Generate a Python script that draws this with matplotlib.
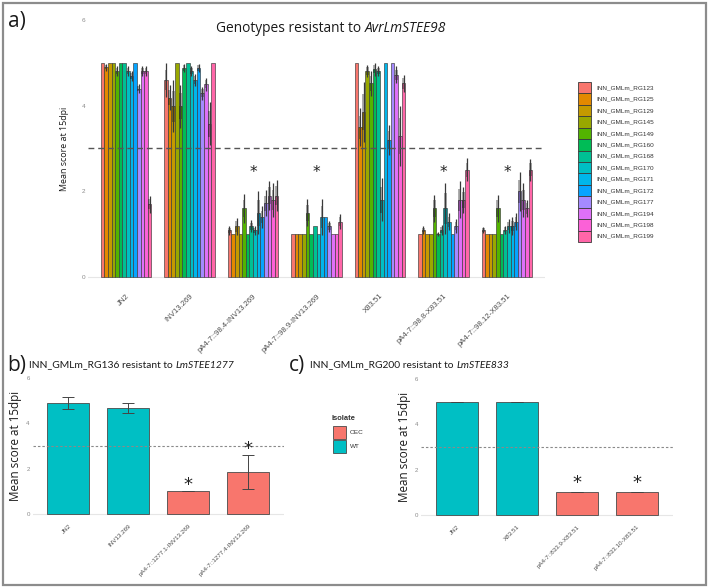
import matplotlib
matplotlib.use("Agg")
import matplotlib.pyplot as plt
from matplotlib.patches import Rectangle
import numpy as np

# ---------------- data ----------------
isolates_a = ["JN2", "INV13.269", "pA4-7::98.4-INV13.269", "pA4-7::98.9-INV13.269",
              "X83.51", "pA4-7::98.8-X83.51", "pA4-7::98.12-X83.51"]
genotypes = ["INN_GMLm_RG123", "INN_GMLm_RG125", "INN_GMLm_RG129", "INN_GMLm_RG145",
             "INN_GMLm_RG149", "INN_GMLm_RG160", "INN_GMLm_RG168", "INN_GMLm_RG170",
             "INN_GMLm_RG171", "INN_GMLm_RG172", "INN_GMLm_RG177", "INN_GMLm_RG194",
             "INN_GMLm_RG198", "INN_GMLm_RG199"]
geno_colors = ["#F8766D", "#E38900", "#C49A00", "#99A800", "#53B400", "#00BC56", "#00C094",
               "#00BFC4", "#00B6EB", "#06A4FF", "#A58AFF", "#DF70F8", "#FB61D7", "#FF66A8"]

mean_JN2 = [5.0, 4.9, 5.0, 5.0, 4.81, 5.0, 5.0, 4.81, 4.7, 5.0, 4.4, 4.81, 4.81, 1.7]
err_JN2 = [0, 0.08, 0, 0, 0.12, 0, 0, 0.12, 0.12, 0, 0.1, 0.12, 0.12, 0.2]
mean_INV = [4.6, 4.19, 3.99, 5.0, 3.99, 4.88, 5.0, 4.81, 4.6, 4.88, 4.29, 4.5, 3.58, 5.0]
err_INV = [0.4, 0.3, 0.6, 0, 0.5, 0.1, 0, 0.12, 0.15, 0.1, 0.15, 0.15, 0.5, 0]
mean_984 = [1.09, 1.0, 1.18, 1.0, 1.6, 1.0, 1.18, 1.09, 1.5, 1.4, 1.72, 1.9, 1.8, 1.9]
err_984 = [0.1, 0, 0.2, 0, 0.34, 0, 0.14, 0.1, 0.5, 0.25, 0.3, 0.33, 0.4, 0.36]
mean_989 = [1.0, 1.0, 1.0, 1.0, 1.5, 1.0, 1.18, 1.0, 1.4, 1.4, 1.18, 1.0, 1.0, 1.29]
err_989 = [0, 0, 0, 0, 0.32, 0, 0, 0, 0.42, 0, 0.12, 0, 0, 0.18]
mean_X83 = [5.0, 3.5, 3.85, 4.81, 4.52, 4.85, 4.81, 1.8, 5.0, 3.2, 5.0, 4.72, 3.29, 4.52]
err_X83 = [0, 0.45, 0.7, 0.15, 0.3, 0.15, 0.12, 0.5, 0, 0.35, 0, 0.2, 0.7, 0.2]
mean_988 = [1.0, 1.1, 1.0, 1.0, 1.6, 1.0, 1.1, 1.6, 1.29, 1.0, 1.19, 1.8, 1.8, 2.5]
err_988 = [0, 0.09, 0, 0, 0.32, 0.05, 0.12, 0.6, 0.2, 0, 0.17, 0.43, 0.3, 0.27]
mean_9812 = [1.1, 1.0, 1.0, 1.0, 1.6, 1.0, 1.1, 1.19, 1.19, 1.29, 2.0, 1.8, 1.6, 2.5]
err_9812 = [0.07, 0, 0, 0, 0.32, 0, 0.1, 0.17, 0.2, 0.2, 0.45, 0.4, 0.2, 0.25]
means_a = [mean_JN2, mean_INV, mean_984, mean_989, mean_X83, mean_988, mean_9812]
errs_a = [err_JN2, err_INV, err_984, err_989, err_X83, err_988, err_9812]
stars_a = ["", "", "*", "*", "", "*", "*"]
star_y_a = 2.45

isolates_b = ["JN2", "INV13.269", "pA4-7::1277.1-INV13.269", "pA4-7::1277.4-INV13.269"]
type_b = ["WT", "WT", "OEC", "OEC"]
mean_b = [4.88, 4.66, 1.0, 1.84]
err_b = [0.26, 0.23, 0.0, 0.74]
stars_b = ["", "", "*", "*"]
star_y_b = [0, 0, 1.28, 2.85]

isolates_c = ["JN2", "X83.51", "pA4-7::833.9-X83.51", "pA4-7::833.10-X83.51"]
type_c = ["WT", "WT", "OEC", "OEC"]
mean_c = [5.0, 5.0, 1.0, 1.0]
err_c = [0.0, 0.0, 0.0, 0.0]
stars_c = ["", "", "*", "*"]
star_y_c = [0, 0, 1.4, 1.4]

isolate_types = ["OEC", "WT"]
type_colors = {"OEC": "#F8766D", "WT": "#00BFC4"}
threshold = 3

# ---------------- layout helpers ----------------
W, H = 709, 588
DPI = 100
fig = plt.figure(figsize=(W / DPI, H / DPI), dpi=DPI)
TICKFONT = "Liberation Sans"
TITLEFONT = "Open Sans"


def fx(px):
    return px / W


def fy(py):
    return 1 - py / H


def axes_px(left, top, right, bottom):
    return fig.add_axes([fx(left), fy(bottom), (right - left) / W, (bottom - top) / H])


def style_axes(ax, ncat, labels, xfs, yfs):
    ax.set_xlim(0.4, ncat + 0.6)
    ax.set_ylim(-0.3, 6.3)
    for s in ax.spines.values():
        s.set_visible(False)
    ax.set_yticks([0, 2, 4, 6])
    ax.set_yticklabels(["0", "2", "4", "6"], fontsize=yfs, color="#8a8a8a", family=TICKFONT)
    ax.set_xticks(np.arange(1, ncat + 1))
    ax.set_xticklabels(labels, rotation=45, ha="right", rotation_mode="anchor",
                       fontsize=xfs, color="#4d4d4d", family=TICKFONT)
    ax.tick_params(length=0, pad=2)
    ax.axhline(0, color="#e6e6e6", lw=0.8, zorder=0)
    ax.set_facecolor("none")


def rich_text(x, y, parts, size, ha="center", family=TITLEFONT):
    """Draw consecutive text pieces [(text, style)] on one line."""
    r = fig.canvas.get_renderer()
    objs = []
    widths = []
    for txt, st in parts:
        t = fig.text(0, fy(y), txt, fontsize=size, style=st, family=family,
                     va="center", ha="left", color="#1a1a1a")
        bb = t.get_window_extent(renderer=r)
        objs.append(t)
        widths.append(bb.width)
    total = sum(widths)
    start = x - total / 2 if ha == "center" else x
    cur = start
    for t, w in zip(objs, widths):
        t.set_x(fx(cur))
        cur += w


# ---------------- panel a ----------------
ax_a = axes_px(88, 7.2, 545, 289.8)
style_axes(ax_a, len(isolates_a), isolates_a, 5.6, 4.6)
n = len(genotypes)
bw = 0.8 / n
for g, (means, errs) in enumerate(zip(means_a, errs_a)):
    xs = g + 1 + (np.arange(n) - (n - 1) / 2) * bw
    ax_a.bar(xs, means, width=bw, color=geno_colors, edgecolor="#3a3a3a", linewidth=0.45, zorder=2)
    m = np.array(means)
    e = np.array(errs)
    ax_a.bar(xs, 1.2 * e, bottom=m - 0.6 * e, width=bw * 0.75, color="black",
             alpha=0.32, linewidth=0, zorder=3)
    ax_a.vlines(xs[e > 0], (m - e)[e > 0], (m + e)[e > 0], color="#3a3a3a", lw=0.9, zorder=4)
    if stars_a[g]:
        ax_a.text(g + 1, star_y_a, stars_a[g], ha="center", va="center", fontsize=11,
                  family="DejaVu Sans", color="#222222", zorder=5)
ax_a.axhline(threshold, color="#555555", lw=1.0, dashes=(4.2, 2.8), zorder=5)
ax_a.set_ylabel("Mean score at 15dpi", family=TITLEFONT, fontsize=6.4, color="#1a1a1a", labelpad=9)

rich_text(331, 29, [("Genotypes resistant to ", "normal"), ("AvrLmSTEE98", "italic")], 9.9)
fig.text(fx(8), fy(22), "a)", fontsize=15, family=TITLEFONT, va="center", ha="left", color="#1a1a1a")

# legend a (drawn manually)
key_top = 82.0
key_h = 11.43
for i, (lab, col) in enumerate(zip(genotypes, geno_colors)):
    y0 = key_top + i * key_h
    fig.patches.append(Rectangle((fx(578), fy(y0 + key_h)), 13 / W, key_h / H,
                                 transform=fig.transFigure, facecolor=col,
                                 edgecolor="#3a3a3a", lw=0.6))
    fig.text(fx(596), fy(y0 + key_h / 2), lab, fontsize=4.6, family=TICKFONT,
             va="center", ha="left", color="#333333")

# ---------------- panels b & c ----------------
def small_panel(box, labels, kinds, means, errs, stars, star_y):
    ax = axes_px(*box)
    style_axes(ax, len(labels), labels, 4.5, 4.4)
    xs = np.arange(1, len(labels) + 1)
    cols = [type_colors[k] for k in kinds]
    ax.bar(xs, means, width=0.7, color=cols, edgecolor="#4a4a4a", linewidth=0.6, zorder=2)
    ax.errorbar(xs, means, yerr=errs, fmt="none", ecolor="#444444", elinewidth=0.7,
                capsize=4, capthick=0.7, zorder=3)
    for x, s, sy in zip(xs, stars, star_y):
        if s:
            ax.text(x, sy, s, ha="center", va="center", fontsize=13, family="DejaVu Sans",
                    color="#222222", zorder=5)
    ax.axhline(threshold, color="#8a8a8a", lw=0.8, dashes=(2.2, 1.8), zorder=4)
    ax.set_ylabel("Mean score at 15dpi", family=TITLEFONT, fontsize=8.4, color="#1a1a1a", labelpad=3)
    return ax

ax_b = small_panel((32.5, 371, 284, 520.8), isolates_b, type_b, mean_b, err_b, stars_b, star_y_b)
ax_c = small_panel((421, 372.3, 673, 521.5), isolates_c, type_c, mean_c, err_c, stars_c, star_y_c)

fig.text(fx(7), fy(365), "b)", fontsize=15, family=TITLEFONT, va="center", ha="left", color="#1a1a1a")
rich_text(29, 365, [("INN_GMLm_RG136 resistant to ", "normal"), ("LmSTEE1277", "italic")], 7.4,
          ha="left", family="Lato")
fig.text(fx(289), fy(365), "c)", fontsize=15, family=TITLEFONT, va="center", ha="left", color="#1a1a1a")
rich_text(310, 365, [("INN_GMLm_RG200 resistant to ", "normal"), ("LmSTEE833", "italic")], 7.4,
          ha="left", family="Lato")

# legend b
fig.text(fx(332), fy(419), "Isolate", fontsize=5.4, family=TICKFONT, weight="bold",
         va="center", ha="left", color="#333333")
for i, k in enumerate(isolate_types):
    y0 = 426 + i * 13.5
    fig.patches.append(Rectangle((fx(333), fy(y0 + 13)), 13 / W, 13 / H,
                                 transform=fig.transFigure, facecolor=type_colors[k],
                                 edgecolor="#4a4a4a", lw=0.6))
    fig.text(fx(350), fy(y0 + 6.5), k, fontsize=4.6, family=TICKFONT,
             va="center", ha="left", color="#333333")

# outer frame
fig.patches.append(Rectangle((fx(3), fy(585)), 703 / W, 582 / H, transform=fig.transFigure,
                             fill=False, edgecolor="#8c8c8c", lw=1.6))

fig.savefig("out.png", dpi=DPI)
